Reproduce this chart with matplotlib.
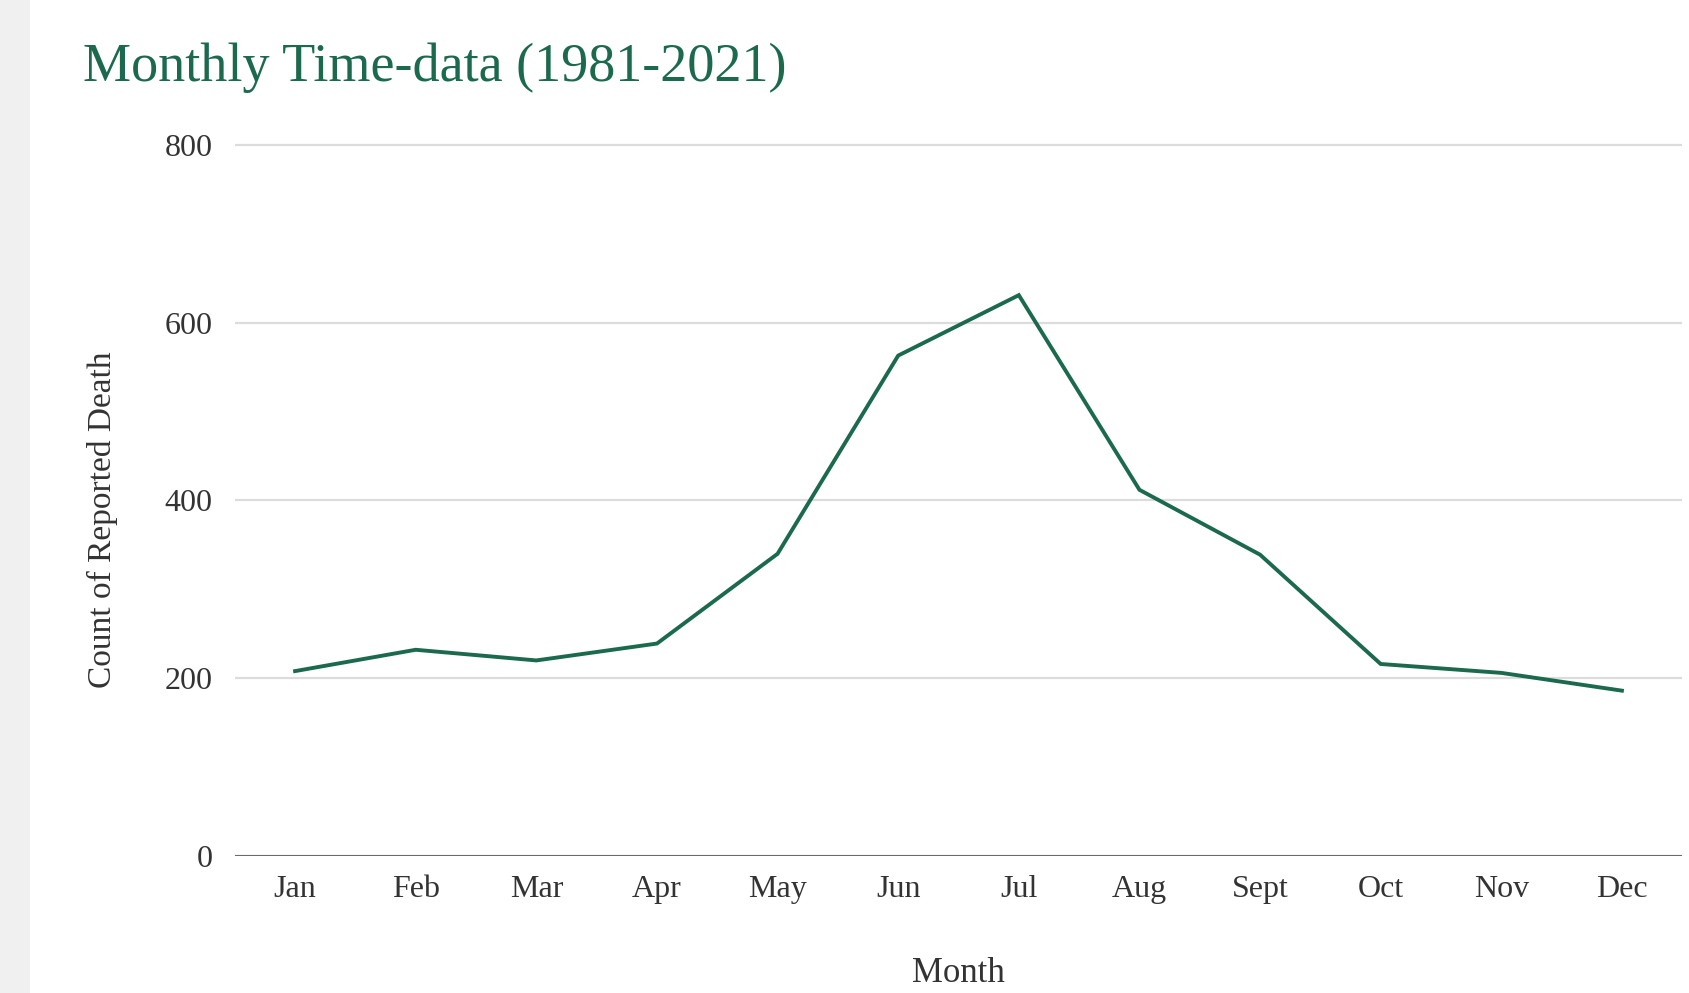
import matplotlib.pyplot as plt

# Monthly counts of reported deaths, 1981-2021
months = ["Jan", "Feb", "Mar", "Apr", "May", "Jun",
          "Jul", "Aug", "Sept", "Oct", "Nov", "Dec"]
deaths = [208, 232, 220, 239, 340, 563, 631, 412, 339, 216, 206, 186]
y_ticks = [0, 200, 400, 600, 800]

GREEN = "#1c6a4e"
TEXT = "#333333"

plt.rcParams["font.family"] = ["Liberation Serif", "DejaVu Serif"]

fig = plt.figure(figsize=(16.89, 9.93), dpi=100)
fig.patch.set_facecolor("white")

# light grey strip along the left edge of the screenshot
fig.add_artist(plt.Rectangle((0, 0), 30 / 1689, 1, transform=fig.transFigure,
                             facecolor="#f0f0f0", edgecolor="none"))

ax = fig.add_axes([0.139, 0.138, 0.857, 0.7205])

ax.plot(range(len(months)), deaths, color=GREEN, linewidth=2.8,
        solid_joinstyle="miter", zorder=3)

ax.set_xlim(-0.5, len(months) - 0.5)
ax.set_ylim(0, 805)
ax.set_yticks(y_ticks)
ax.set_xticks(range(len(months)))
ax.set_xticklabels(months)

ax.grid(axis="y", color="#dcdcdc", linewidth=1.6)
ax.axhline(0, color="#6a6a6a", linewidth=2.2, zorder=2)
ax.set_axisbelow(True)
for side in ["top", "right", "left", "bottom"]:
    ax.spines[side].set_visible(False)

ax.tick_params(axis="both", length=0, colors=TEXT)
ax.tick_params(axis="y", labelsize=23, pad=16)
ax.tick_params(axis="x", labelsize=23, pad=14)

ax.set_xlabel("Month", fontsize=25, color=TEXT, labelpad=38)
ax.set_ylabel("Count of Reported Death", fontsize=24, color=TEXT)
ax.yaxis.set_label_coords(-0.081, 0.47)

fig.text(83 / 1689, 1 - 81 / 993, "Monthly Time-data (1981-2021)",
         fontsize=39, color=GREEN, ha="left", va="baseline")

fig.savefig("out.png", dpi=100)
